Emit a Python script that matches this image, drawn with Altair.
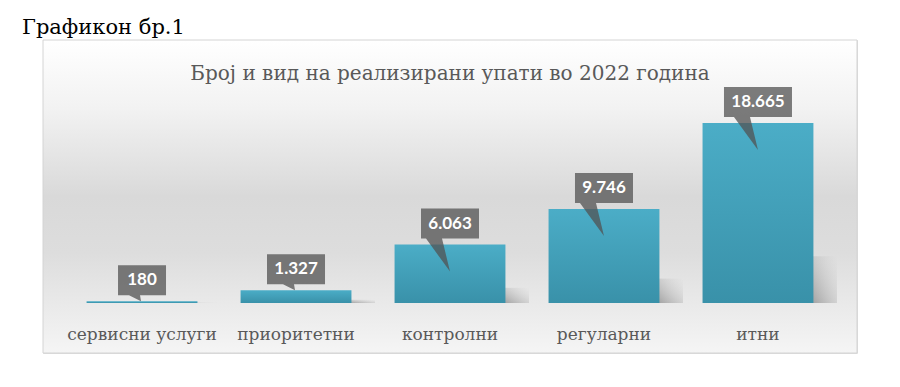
import altair as alt
import pandas as pd

# ---- data ----
categories = ["сервисни услуги", "приоритетни", "контролни", "регуларни", "итни"]
values = [180, 1327, 6063, 9746, 18665]
value_labels = ["180", "1.327", "6.063", "9.746", "18.665"]
chart_title = "Број и вид на реализирани упати во 2022 година"
figure_title = "Графикон бр.1"

df = pd.DataFrame({"cat": categories, "v": values, "lab": value_labels})
one = pd.DataFrame({"k": [0]})

W, H = 814, 313
SERIF = "DejaVu Serif"

xenc = alt.X(
    "cat:N",
    sort=categories,
    scale=alt.Scale(paddingInner=0.28, paddingOuter=0.283),
    axis=alt.Axis(
        title=None, ticks=False, tickSize=0, domain=False, grid=False,
        labelAngle=0, labelPadding=-14, labelBaseline="alphabetic",
        labelFont=SERIF, labelFontSize=17, labelColor="#595959", labelLimit=400,
        zindex=1,
    ),
)
yscale = alt.Scale(domain=[-5185, 27272], nice=False, zero=False)
yenc = alt.Y("v:Q", scale=yscale, axis=None)

bg_grad = alt.Gradient(
    gradient="linear", x1=0, y1=0, x2=0, y2=1,
    stops=[
        alt.GradientStop(color="#ffffff", offset=0),
        alt.GradientStop(color="#f2f2f2", offset=0.22),
        alt.GradientStop(color="#d9d9d9", offset=0.5),
        alt.GradientStop(color="#dddddd", offset=0.68),
        alt.GradientStop(color="#f5f5f5", offset=1),
    ],
)
bar_grad = alt.Gradient(
    gradient="linear", x1=0, y1=0, x2=0, y2=1,
    stops=[
        alt.GradientStop(color="#4badc7", offset=0),
        alt.GradientStop(color="#3991a9", offset=1),
    ],
)
shadow_grad = alt.Gradient(
    gradient="linear", x1=0, y1=1, x2=1, y2=0,
    stops=[
        alt.GradientStop(color="rgba(140,140,140,0.75)", offset=0),
        alt.GradientStop(color="rgba(200,200,200,0)", offset=1),
    ],
)

bg = alt.Chart(one).mark_rect(fill=bg_grad, stroke="#d4d4d4", strokeWidth=1).encode(
    x=alt.value(0), x2=alt.value(W), y=alt.value(0), y2=alt.value(H)
)

inner_title = alt.Chart(one).mark_text(
    text=chart_title, font=SERIF, fontSize=20, color="#595959", baseline="alphabetic"
).encode(x=alt.value(W / 2), y=alt.value(40))

outer_title = alt.Chart(one).mark_text(
    text=figure_title, font=SERIF, fontSize=21, color="#000000",
    baseline="alphabetic", align="left",
).encode(x=alt.value(-21), y=alt.value(-6))

base = alt.Chart(df)

shadow = base.transform_calculate(sh="datum.v * 0.26").mark_bar(
    fill=shadow_grad, width=24, xOffset=67
).encode(x=xenc, y=alt.Y("sh:Q", scale=yscale, axis=None), y2=alt.datum(0))

bars = base.mark_bar(fill=bar_grad).encode(x=xenc, y=yenc, y2=alt.datum(0))

callout = base.transform_calculate(
    hw="(length(replace(datum.lab, '.', '')) * 10 + 18) / 2",
    shape="'M' + (-datum.hw) + ',-36L' + datum.hw + ',-36L' + datum.hw + ',-6'"
          " + (datum.v > 3000 ? 'L-8,-6L0,27L-24,-6' : 'L-2,-6L-1,0L-13,-6')"
          " + 'L' + (-datum.hw) + ',-6Z'",
).mark_point(filled=True, size=4, color="#525252", opacity=0.75, strokeWidth=0).encode(
    x=xenc, y=yenc, shape=alt.Shape("shape:N", scale=None, legend=None)
)

labels = base.mark_text(
    font="Lato", fontWeight="bold", fontSize=17, color="white", baseline="middle", dy=-21
).encode(x=xenc, y=yenc, text="lab:N")

chart = alt.layer(bg, outer_title, inner_title, shadow, bars, callout, labels).properties(
    width=W,
    height=H,
    autosize=alt.AutoSizeParams(type="none"),
    padding={"left": 35, "top": 32, "right": 29, "bottom": 20},
).configure_view(stroke=None).configure(background="#ffffff")

chart.save("out.html", embed_options={"renderer": "svg", "actions": False})
